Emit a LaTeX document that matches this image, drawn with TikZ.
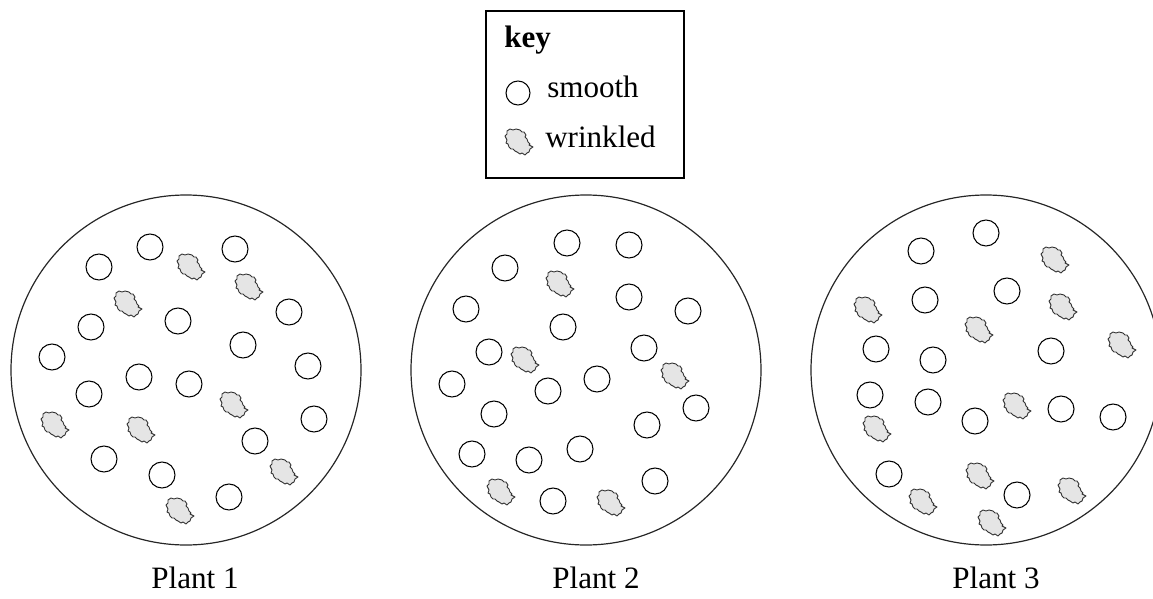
\documentclass[tikz,border=0pt]{standalone}
\usepackage{fontspec}
\setmainfont{Liberation Serif}
\tikzset{
  plate/.style={draw=black!85, line width=0.9pt},
  seed/.style={circle, draw=black, line width=0.8pt, minimum size=19.5pt, inner sep=0pt},
  keyseed/.style={circle, draw=black, line width=0.8pt, minimum size=18pt, inner sep=0pt},
  lbl/.style={font=\fontsize{23.3}{28}\selectfont, inner sep=0pt},
  keybox/.style={draw=black, line width=0.8pt},
  wrinkle/.pic={
    \draw[draw=black!80, line width=0.7pt, fill=black!10, line join=round]
      (-12,-11) -- (-9,-13) -- (-6,-12) -- (-3,-13) -- (1,-12) -- (3,-10) -- (5,-10)
      -- (7,-7) -- (6,-5) -- (8,-3) -- (9,0) -- (11,2) -- (10,3) -- (14,5) -- (11,7)
      -- (10,10) -- (8,11) -- (6,13) -- (3,11) -- (1,12) -- (-2,10) -- (-4,9) -- (-6,7)
      -- (-8,7) -- (-10,5) -- (-11,2) -- (-13,1) -- (-12,-2) -- (-13,-4) -- (-14,-6)
      -- (-12,-8) -- cycle;
  }
}
\begin{document}
\begin{tikzpicture}[x=0.75pt, y=-0.75pt]
\useasboundingbox (0,0) rectangle (1153,599);
\clip (0,0) rectangle (1153,599);

% key
\draw[keybox] (486,11) rectangle (684,178);
\node[lbl, anchor=base west] (keytitle) at (504,48) {\textbf{key}};
\node[keyseed] (keysmooth) at (518,93) {};
\node[lbl, anchor=base west] (keysmoothlbl) at (547,98) {smooth};
\pic (keywr) at (519,142) {wrinkle};
\node[lbl, anchor=base west] (keywrlbl) at (545,148) {wrinkled};

% plates
\draw[plate] (186,370) circle[radius=175];
\draw[plate] (586,370) circle[radius=175];
\draw[plate] (986,370) circle[radius=175];

% plant 1 smooth
\foreach \p [count=\i] in {(150,247),(99,267),(235,249),(91,327),(178,321),(289,312),(52,357),(243,345),(308,366),(139,377),(189,384),(89,394),(314,419),(255,441),(104,459),(162,475),(229,497)}
  \node[seed] (a\i) at \p {};
% plant 1 wrinkled
\foreach \p [count=\i] in {(191,267),(249,287),(128,304),(234,405),(55,425),(141,430),(284,472),(180,511)}
  \pic (aw\i) at \p {wrinkle};

% plant 2 smooth
\foreach \p [count=\i] in {(567,243),(629,245),(505,268),(466,309),(629,297),(688,311),(563,327),(644,348),(489,352),(452,384),(597,379),(548,391),(696,408),(494,414),(647,425),(472,454),(529,460),(580,449),(655,481),(553,501)}
  \node[seed] (b\i) at \p {};
% plant 2 wrinkled
\foreach \p [count=\i] in {(560,284),(525,360),(675,376),(501,492),(611,503)}
  \pic (bw\i) at \p {wrinkle};

% plant 3 smooth
\foreach \p [count=\i] in {(986,233),(921,251),(1007,291),(925,300),(876,349),(933,360),(1051,351),(870,395),(928,402),(975,421),(1061,409),(1113,417),(889,474),(1017,495)}
  \node[seed] (c\i) at \p {};
% plant 3 wrinkled
\foreach \p [count=\i] in {(1055,260),(868,310),(1063,307),(979,330),(1122,345),(1017,406),(877,429),(980,476),(923,502),(1072,491),(992,523)}
  \pic (cw\i) at \p {wrinkle};

% labels
\node[lbl, anchor=base] (plant1) at (195,588) {Plant 1};
\node[lbl, anchor=base] (plant2) at (596,588) {Plant 2};
\node[lbl, anchor=base] (plant3) at (996,588) {Plant 3};
\end{tikzpicture}
\end{document}
